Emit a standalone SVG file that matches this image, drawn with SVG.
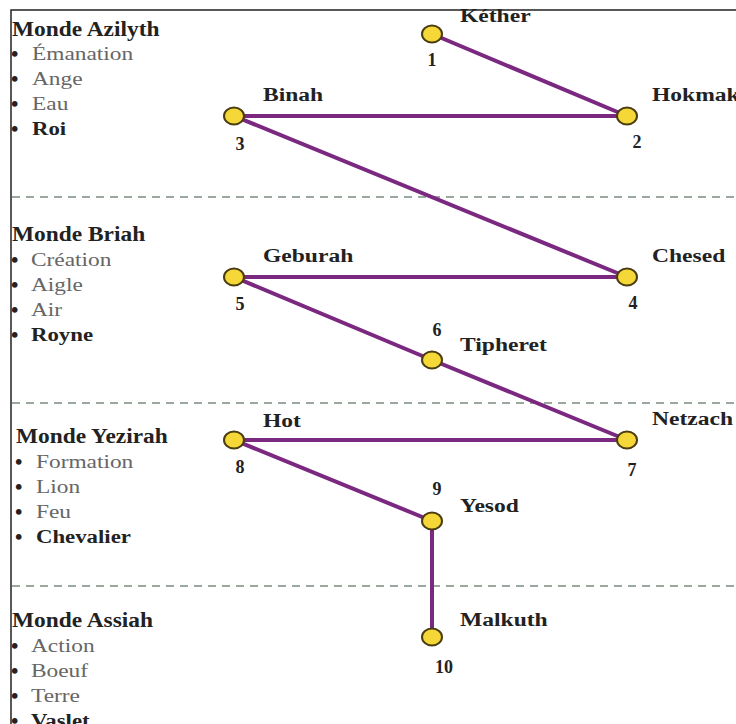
<svg xmlns="http://www.w3.org/2000/svg" width="736" height="724" viewBox="0 0 736 724">
<style>
.bg{fill:#fff}
.frame{stroke:#222;stroke-width:1.5;fill:none}
.sep{stroke:#9aa89e;stroke-width:2;stroke-dasharray:8 6;fill:none}
.edge{stroke:#7a2880;stroke-width:4;fill:none;stroke-linecap:round}
.node{fill:#f5d838;stroke:#4a3d10;stroke-width:2}
.lab{font-family:"Liberation Serif",serif;font-weight:bold;font-size:19px;fill:#222}
.num{font-family:"Liberation Serif",serif;font-weight:bold;font-size:18px;fill:#222}
.title{font-family:"Liberation Serif",serif;font-weight:bold;font-size:20px;fill:#222}
.item{font-family:"Liberation Serif",serif;font-size:19px;fill:#666}
.itemb{font-family:"Liberation Serif",serif;font-weight:bold;font-size:19px;fill:#222}
.bul{font-family:"Liberation Serif",serif;font-weight:bold;font-size:21px;fill:#222}
</style>
<rect class="bg" x="0" y="0" width="736" height="724"/>
<path class="frame" d="M11 724 V10 H736"/>
<g id="separators">
<line class="sep" x1="12" y1="197" x2="736" y2="197"/>
<line class="sep" x1="12" y1="403" x2="736" y2="403"/>
<line class="sep" x1="12" y1="586" x2="736" y2="586"/>
</g>
<g id="worlds">
<g id="azilyth">
<text class="title" transform="translate(12 36) scale(1.17 1)">Monde Azilyth</text>
<text class="bul" x="11" y="61">•</text><text class="item" transform="translate(32 60) scale(1.23 1)">Émanation</text>
<text class="bul" x="11" y="86">•</text><text class="item" transform="translate(32 85) scale(1.23 1)">Ange</text>
<text class="bul" x="11" y="111">•</text><text class="item" transform="translate(32 110) scale(1.23 1)">Eau</text>
<text class="bul" x="11" y="136">•</text><text class="itemb" transform="translate(32 135) scale(1.2 1)">Roi</text>
</g>
<g id="briah">
<text class="title" transform="translate(12 241) scale(1.17 1)">Monde Briah</text>
<text class="bul" x="11" y="267">•</text><text class="item" transform="translate(31 266) scale(1.23 1)">Création</text>
<text class="bul" x="11" y="292">•</text><text class="item" transform="translate(31 291) scale(1.23 1)">Aigle</text>
<text class="bul" x="11" y="317">•</text><text class="item" transform="translate(31 316) scale(1.23 1)">Air</text>
<text class="bul" x="11" y="342">•</text><text class="itemb" transform="translate(31 341) scale(1.2 1)">Royne</text>
</g>
<g id="yezirah">
<text class="title" transform="translate(16 443) scale(1.17 1)">Monde Yezirah</text>
<text class="bul" x="15" y="469">•</text><text class="item" transform="translate(36 468) scale(1.23 1)">Formation</text>
<text class="bul" x="15" y="494">•</text><text class="item" transform="translate(36 493) scale(1.23 1)">Lion</text>
<text class="bul" x="15" y="519">•</text><text class="item" transform="translate(36 518) scale(1.23 1)">Feu</text>
<text class="bul" x="15" y="544">•</text><text class="itemb" transform="translate(36 543) scale(1.2 1)">Chevalier</text>
</g>
<g id="assiah">
<text class="title" transform="translate(12 627) scale(1.17 1)">Monde Assiah</text>
<text class="bul" x="11" y="653">•</text><text class="item" transform="translate(31 652) scale(1.23 1)">Action</text>
<text class="bul" x="11" y="678">•</text><text class="item" transform="translate(31 677) scale(1.23 1)">Boeuf</text>
<text class="bul" x="11" y="703">•</text><text class="item" transform="translate(31 702) scale(1.23 1)">Terre</text>
<text class="bul" x="11" y="728">•</text><text class="itemb" transform="translate(31 727) scale(1.2 1)">Vaslet</text>
</g>
</g>
<g id="connectors">
<line class="edge" x1="432" y1="34" x2="627" y2="116"/>
<line class="edge" x1="627" y1="116" x2="234" y2="116"/>
<line class="edge" x1="234" y1="116" x2="627" y2="277"/>
<line class="edge" x1="627" y1="277" x2="234" y2="277"/>
<line class="edge" x1="234" y1="277" x2="432" y2="360"/>
<line class="edge" x1="432" y1="360" x2="627" y2="440"/>
<line class="edge" x1="627" y1="440" x2="234" y2="440"/>
<line class="edge" x1="234" y1="440" x2="432" y2="521"/>
<line class="edge" x1="432" y1="521" x2="432" y2="637"/>
</g>
<g id="n1"><ellipse class="node" cx="432" cy="34" rx="10" ry="8.5"/><text class="lab" transform="translate(460 22) scale(1.24 1)">Kéther</text><text class="num" x="432" y="66" text-anchor="middle">1</text></g>
<g id="n2"><ellipse class="node" cx="627" cy="116" rx="10" ry="8.5"/><text class="lab" transform="translate(652 101) scale(1.24 1)">Hokmak</text><text class="num" x="637" y="148" text-anchor="middle">2</text></g>
<g id="n3"><ellipse class="node" cx="234" cy="116" rx="10" ry="8.5"/><text class="lab" transform="translate(263 101) scale(1.24 1)">Binah</text><text class="num" x="240" y="150" text-anchor="middle">3</text></g>
<g id="n4"><ellipse class="node" cx="627" cy="277" rx="10" ry="8.5"/><text class="lab" transform="translate(652 262) scale(1.24 1)">Chesed</text><text class="num" x="633" y="309" text-anchor="middle">4</text></g>
<g id="n5"><ellipse class="node" cx="234" cy="277" rx="10" ry="8.5"/><text class="lab" transform="translate(263 262) scale(1.24 1)">Geburah</text><text class="num" x="240" y="310" text-anchor="middle">5</text></g>
<g id="n6"><ellipse class="node" cx="432" cy="360" rx="10" ry="8.5"/><text class="lab" transform="translate(460 351) scale(1.24 1)">Tipheret</text><text class="num" x="437" y="336" text-anchor="middle">6</text></g>
<g id="n7"><ellipse class="node" cx="627" cy="440" rx="10" ry="8.5"/><text class="lab" transform="translate(652 425) scale(1.24 1)">Netzach</text><text class="num" x="632" y="476" text-anchor="middle">7</text></g>
<g id="n8"><ellipse class="node" cx="234" cy="440" rx="10" ry="8.5"/><text class="lab" transform="translate(263 427) scale(1.24 1)">Hot</text><text class="num" x="240" y="473" text-anchor="middle">8</text></g>
<g id="n9"><ellipse class="node" cx="432" cy="521" rx="10" ry="8.5"/><text class="lab" transform="translate(460 512) scale(1.24 1)">Yesod</text><text class="num" x="437" y="495" text-anchor="middle">9</text></g>
<g id="n10"><ellipse class="node" cx="432" cy="637" rx="10" ry="8.5"/><text class="lab" transform="translate(460 626) scale(1.24 1)">Malkuth</text><text class="num" x="444" y="673" text-anchor="middle">10</text></g>
</svg>
